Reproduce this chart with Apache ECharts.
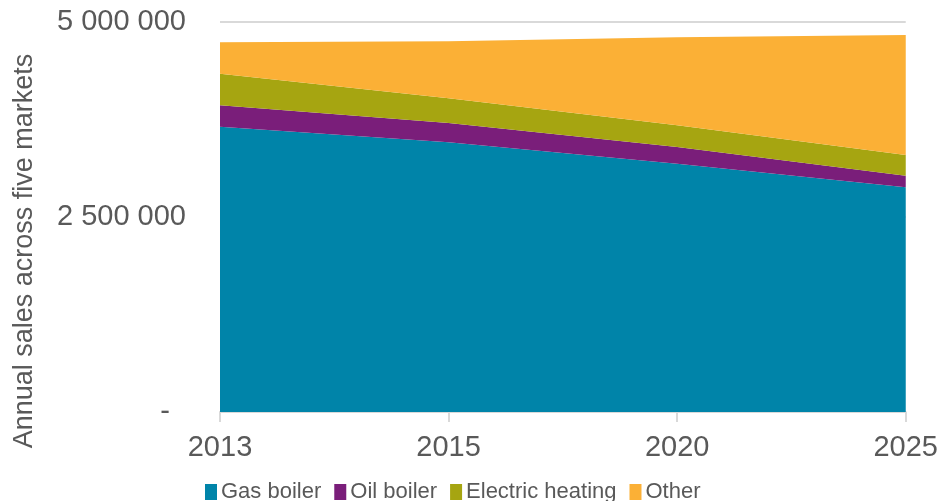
<!DOCTYPE html>
<html>
<head>
<meta charset="utf-8">
<script src="https://cdn.jsdelivr.net/npm/echarts@6/dist/echarts.min.js"></script>
<style>
  html, body { margin: 0; padding: 0; background: #fff; }
  #main { width: 941px; height: 501px; }
</style>
</head>
<body>
<div id="main"></div>
<script>
// 数据
var years = ["2013", "2015", "2020", "2025"]
var gasBoiler = [3658000, 3458000, 3183000, 2881000]
var oilBoiler = [274000, 247000, 214000, 149000]
var electricHeating = [405000, 317000, 279000, 265000]
var other = [403000, 731000, 1128000, 1538000]
var seriesNames = ["Gas boiler", "Oil boiler", "Electric heating", "Other"]
var seriesColors = ["#0084a9", "#7a1e7a", "#a6a511", "#fbb036"]

var chartDom = document.getElementById("main")
var myChart = echarts.init(chartDom)

function areaSeries(name, data, color) {
  return {
    name: name,
    type: "line",
    stack: "total",
    data: data,
    showSymbol: false,
    symbol: "none",
    lineStyle: { width: 0 },
    areaStyle: { color: color, opacity: 1 },
    itemStyle: { color: color },
    emphasis: { disabled: true }
  }
}

var option = {
  animation: false,
  textStyle: { fontFamily: "Liberation Sans, Arial, sans-serif" },
  grid: { left: 220, right: 34, top: 22, bottom: 89 },
  legend: {
    left: 200,
    top: 476,
    itemWidth: 12,
    itemHeight: 16,
    itemGap: 13,
    icon: "rect",
    data: seriesNames,
    textStyle: { fontSize: 22, color: "#595959", padding: [0, 0, 0, -1] }
  },
  graphic: [
    {
      type: "text",
      x: 25,
      y: 251,
      rotation: Math.PI / 2,
      style: {
        text: "Annual sales across five markets",
        fontSize: 27,
        fontFamily: "Liberation Sans, Arial, sans-serif",
        fill: "#595959",
        align: "center",
        verticalAlign: "middle"
      }
    }
  ],
  xAxis: {
    type: "category",
    boundaryGap: false,
    data: years,
    axisLine: { lineStyle: { color: "#d9d9d9", width: 2 } },
    axisTick: { show: true, alignWithLabel: true, length: 10, lineStyle: { color: "#d9d9d9", width: 2 } },
    axisLabel: { fontSize: 29, color: "#595959", margin: 21 }
  },
  yAxis: {
    type: "value",
    min: 0,
    max: 5000000,
    interval: 2500000,
    axisLine: { show: false },
    axisTick: { show: false },
    splitLine: { lineStyle: { color: "#d9d9d9", width: 2 } },
    axisLabel: {
      fontSize: 29,
      color: "#595959",
      margin: 34,
      formatter: function (v) {
        if (v === 0) return "-  "
        return String(v).replace(/\B(?=(\d{3})+(?!\d))/g, " ")
      }
    }
  },
  series: [
    areaSeries(seriesNames[0], gasBoiler, seriesColors[0]),
    areaSeries(seriesNames[1], oilBoiler, seriesColors[1]),
    areaSeries(seriesNames[2], electricHeating, seriesColors[2]),
    areaSeries(seriesNames[3], other, seriesColors[3])
  ]
}

myChart.setOption(option)
</script>
</body>
</html>
